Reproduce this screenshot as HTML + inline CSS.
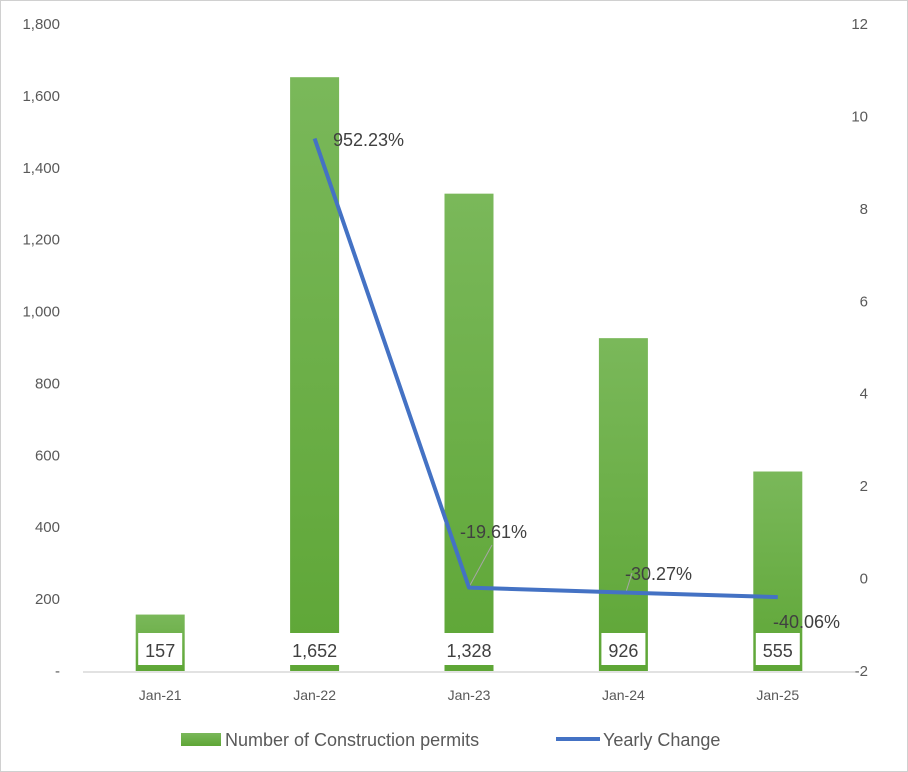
<!DOCTYPE html>
<html><head><meta charset="utf-8"><style>
body{margin:0;background:#fff;font-family:"Liberation Sans",sans-serif}
svg{display:block}
</style></head><body>
<svg width="908" height="772" xmlns="http://www.w3.org/2000/svg">
<defs><linearGradient id="bg" x1="0" y1="0" x2="0" y2="1"><stop offset="0" stop-color="#7ab85a"/><stop offset="1" stop-color="#5ea636"/></linearGradient></defs>
<rect x="0.5" y="0.5" width="907" height="771" fill="#fff" stroke="#d0d0d0"/>
<g id="g"></g>
</svg>
<script>
const categories=["Jan-21","Jan-22","Jan-23","Jan-24","Jan-25"];
const permits=[157,1652,1328,926,555];
const permitLabels=["157","1,652","1,328","926","555"];
const yearly=[null,9.5223,-0.1961,-0.3027,-0.4006];
const yearlyLabels=["","952.23%","-19.61%","-30.27%","-40.06%"];
const leftTicks=[0,200,400,600,800,1000,1200,1400,1600,1800];
const leftTickLabels=["-","200","400","600","800","1,000","1,200","1,400","1,600","1,800"];
const rightTicks=[-2,0,2,4,6,8,10,12];

const NS="http://www.w3.org/2000/svg";
const g=document.getElementById('g');
const yTop=24,yBot=671,x0=83,x1=855;
const yL=v=>yBot-(v/1800)*(yBot-yTop);
const yR=v=>yBot-((v+2)/14)*(yBot-yTop);
const cw=(x1-x0)/categories.length;
const xC=i=>x0+cw*(i+0.5);
function el(t,a,txt){const e=document.createElementNS(NS,t);for(const k in a)e.setAttribute(k,a[k]);if(txt!==undefined)e.textContent=txt;g.appendChild(e);return e;}

leftTicks.forEach((v,i)=>{const e=el('text',{x:60,y:yL(v)+5,'text-anchor':'end','font-size':15,fill:'#595959'},leftTickLabels[i]);

});
rightTicks.forEach(v=>{const e=el('text',{x:868,y:yR(v)+5,'text-anchor':'end','font-size':15,fill:'#595959'},String(v));

});

permits.forEach((v,i)=>{const b=el('rect',{x:xC(i)-24.5,y:yL(v),width:49,height:yBot-yL(v),fill:'url(#bg)'});

});

const ax=el('line',{x1:x0,x2:x1,y1:yBot+1,y2:yBot+1,stroke:'#d9d9d9','stroke-width':1.5});



categories.forEach((c,i)=>{const t=el('text',{x:xC(i),y:700,'text-anchor':'middle','font-size':14,fill:'#595959'},c);

});

permitLabels.forEach((s,i)=>{const w=s.length*10+14;
const r=el('rect',{x:xC(i)-w/2,y:633,width:w,height:32,fill:'#fff'});


const t=el('text',{x:xC(i),y:657,'text-anchor':'middle','font-size':18,fill:'#404040'},s);

});

[[469,587,492,545],[626,592,632,573]].forEach(a=>{const l=el('line',{x1:a[0],y1:a[1],x2:a[2],y2:a[3],stroke:'#a6a6a6','stroke-width':1});

});

let pts=[];yearly.forEach((v,i)=>{if(v!==null)pts.push(xC(i)+','+yR(v));});
const pl=el('polyline',{points:pts.join(' '),fill:'none',stroke:'#4472c4','stroke-width':4,'stroke-linejoin':'round'});



const lblPos=[null,[333,146],[460,538],[625,580],[773,628]];
yearlyLabels.forEach((s,i)=>{if(!s)return;const t=el('text',{x:lblPos[i][0],y:lblPos[i][1],'font-size':18,fill:'#404040'},s);

});

const lr=el('rect',{x:181,y:733,width:40,height:13,fill:'url(#bg)'});


const lt=el('text',{x:225,y:746,'font-size':18,fill:'#595959'},'Number of Construction permits');


const ll=el('line',{x1:556,x2:600,y1:739,y2:739,stroke:'#4472c4','stroke-width':4});


const lt2=el('text',{x:603,y:746,'font-size':18,fill:'#595959'},'Yearly Change');


</script>
</body></html>
